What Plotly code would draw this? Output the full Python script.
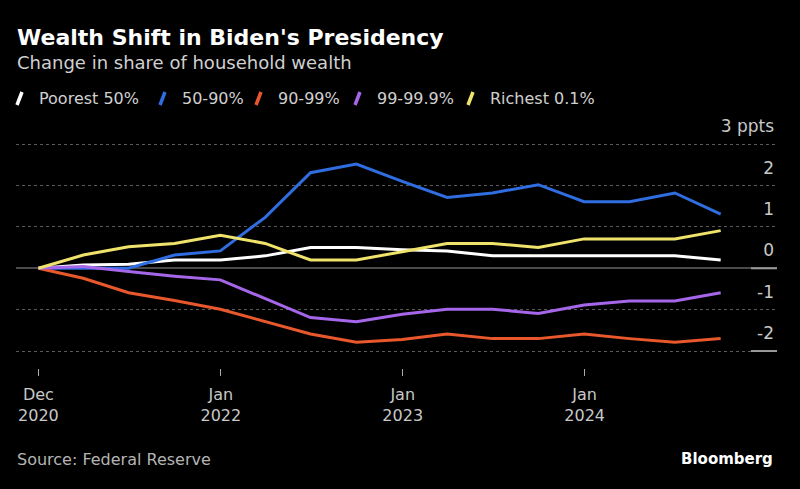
import plotly.graph_objects as go

dates = ["2020-12-31", "2021-03-31", "2021-06-30", "2021-09-30", "2021-12-31",
         "2022-03-31", "2022-06-30", "2022-09-30", "2022-12-31",
         "2023-03-31", "2023-06-30", "2023-09-30", "2023-12-31",
         "2024-03-31", "2024-06-30", "2024-09-30"]

poorest_50 = [0, 0.08, 0.1, 0.2, 0.2, 0.3, 0.5, 0.5, 0.45, 0.42, 0.3, 0.3, 0.3, 0.3, 0.3, 0.2]
p50_90 = [0, 0.0, 0.0, 0.32, 0.42, 1.23, 2.31, 2.52, 2.1, 1.71, 1.82, 2.02, 1.61, 1.61, 1.82, 1.31]
p90_99 = [0, -0.24, -0.59, -0.78, -0.99, -1.29, -1.59, -1.79, -1.72, -1.59, -1.7, -1.7, -1.59, -1.7, -1.79, -1.7]
p99_999 = [0, 0.04, -0.08, -0.19, -0.28, -0.73, -1.19, -1.29, -1.11, -0.99, -0.99, -1.09, -0.89, -0.79, -0.79, -0.59]
richest_01 = [0, 0.32, 0.52, 0.6, 0.8, 0.6, 0.2, 0.2, 0.4, 0.6, 0.6, 0.5, 0.71, 0.71, 0.71, 0.91]

series_names = ["Poorest 50%", "50-90%", "90-99%", "99-99.9%", "Richest 0.1%"]
series_values = [poorest_50, p50_90, p90_99, p99_999, richest_01]
series_colors = ["#ffffff", "#2f6de1", "#e8582c", "#a566e9", "#f0e36c"]

x_tickvals = ["2020-12-31", "2022-01-01", "2023-01-01", "2024-01-01"]
x_ticktext = ["Dec<br>2020", "Jan<br>2022", "Jan<br>2023", "Jan<br>2024"]
y_tickvals = [-2, -1, 0, 1, 2, 3]
y_ticktext = ["-2", "-1", "0", "1", "2", "3 ppts"]

# layout constants (pixels)
W, H = 800, 489
ML, MR, MT, MB = 16, 23, 140, 121
PW, PH = W - ML - MR, H - MT - MB
LEGEND_ICON_X = [17, 160, 256, 355, 468]
LEGEND_Y = 98


def px(xp):
    return (xp - ML) / PW


def py(yp):
    return (H - MB - yp) / PH


FONT = "DejaVu Sans"
fig = go.Figure()
for i in range(5):
    fig.add_trace(go.Scatter(
        x=dates, y=series_values[i], mode="lines", name=series_names[i],
        line=dict(color=series_colors[i], width=3), showlegend=False,
    ))

annotations = [
    dict(text="<b>Wealth Shift in Biden's Presidency</b>", xref="paper", yref="paper",
         x=px(15), y=py(37), xanchor="left", yanchor="middle",
         showarrow=False, font=dict(size=22, color="#ffffff")),
    dict(text="Change in share of household wealth", xref="paper", yref="paper",
         x=px(15), y=py(62), xanchor="left", yanchor="middle",
         showarrow=False, font=dict(size=18, color="#d0d0d0")),
    dict(text="Source: Federal Reserve", xref="paper", yref="paper",
         x=px(15), y=py(459), xanchor="left", yanchor="middle",
         showarrow=False, font=dict(size=16, color="#b4b4b4")),
    dict(text="<b>Bloomberg</b>", xref="paper", yref="paper",
         x=px(775), y=py(459), xanchor="right", yanchor="middle",
         showarrow=False, font=dict(size=15, color="#ffffff")),
]
shapes = []
for name, color, ix in zip(series_names, series_colors, LEGEND_ICON_X):
    shapes.append(dict(type="line", xref="paper", yref="paper",
                       x0=px(ix), y0=py(LEGEND_Y + 7), x1=px(ix + 5), y1=py(LEGEND_Y - 6),
                       line=dict(color=color, width=3.5)))
    annotations.append(dict(text=name, xref="paper", yref="paper",
                            x=px(ix + 22), y=py(LEGEND_Y), xanchor="left", yanchor="middle",
                            xshift=-2, showarrow=False, font=dict(size=16, color="#d0d0d0")))
# light end-caps on the right for the 0 and -2 lines
for v in [0, -2]:
    shapes.append(dict(type="line", xref="paper", yref="y", x0=px(751), x1=1, y0=v, y1=v,
                       line=dict(color="#9a9a9a", width=2), layer="above"))

fig.update_layout(
    width=W, height=H,
    paper_bgcolor="#000000", plot_bgcolor="#000000",
    margin=dict(l=ML, r=MR, t=MT, b=MB),
    font=dict(family=FONT, color="#c8c8c8", size=16),
    showlegend=False,
    annotations=annotations,
    shapes=shapes,
    xaxis=dict(type="date", range=["2020-11-16", "2025-01-21"], showgrid=False, zeroline=False,
               tickvals=x_tickvals, ticktext=x_ticktext, ticks="outside", ticklen=7,
               tickcolor="#aaaaaa", tickwidth=1, showline=False, ticklabelstandoff=5,
               tickfont=dict(size=16, color="#c8c8c8")),
    yaxis=dict(side="right", range=[-2.41, 3.1], tickvals=y_tickvals, ticktext=y_ticktext,
               ticklabelposition="inside top", ticklabeloverflow="allow", ticklabelshift=-6,
               ticklabelstandoff=0,
               showgrid=True, gridcolor="#5a5a5a",
               griddash="dot", gridwidth=1, zeroline=True, zerolinecolor="#4a4a4a",
               zerolinewidth=2, ticks="", showline=False,
               tickfont=dict(size=17, color="#c8c8c8")),
)
fig.write_html("out.html", config={"displayModeBar": False},
               post_script="document.body.style.margin='0';document.body.style.background='#000';")
